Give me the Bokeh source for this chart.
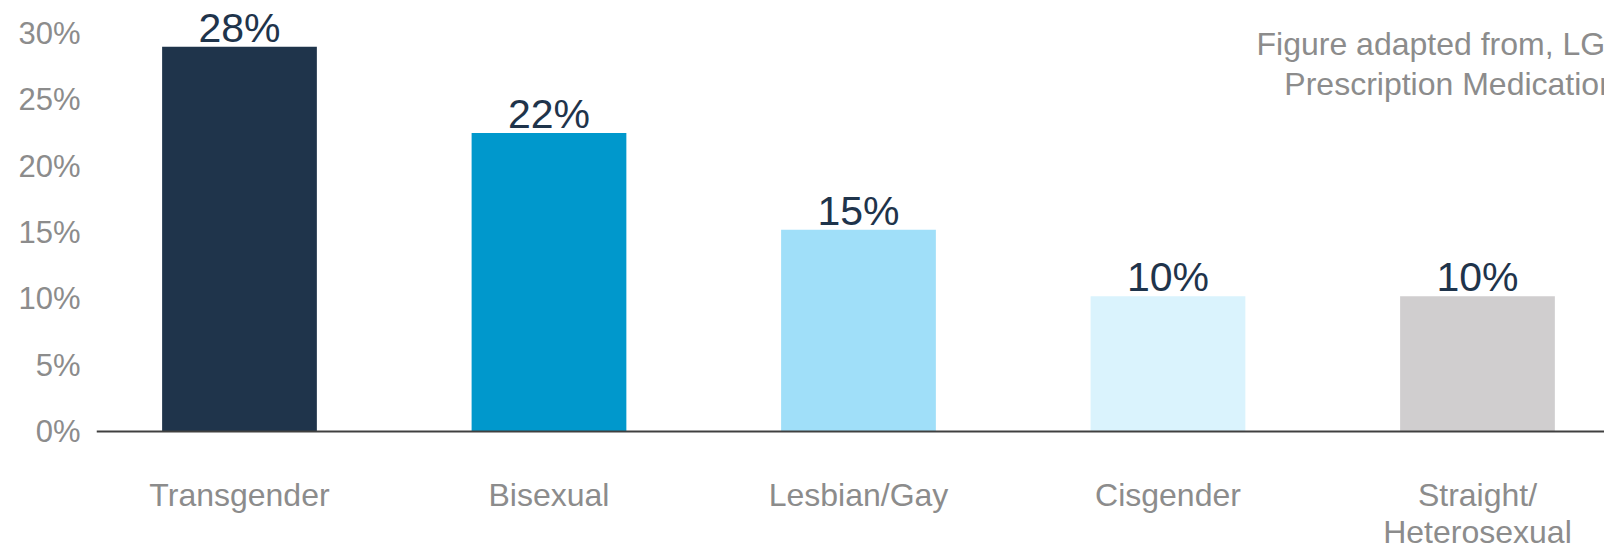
from bokeh.plotting import figure
from bokeh.models import ColumnDataSource, Range1d, Span, FixedTicker
from bokeh.core.properties import value
from bokeh.embed import file_html
from bokeh.resources import INLINE

# ---- data ----
categories = ["Transgender", "Bisexual", "Lesbian/Gay", "Cisgender", "Straight/Heterosexual"]
label_line1 = ["Transgender", "Bisexual", "Lesbian/Gay", "Cisgender", "Straight/"]
label_line2 = ["", "", "", "", "Heterosexual"]
bar_values = [29.0, 22.5, 15.2, 10.2, 10.2]
value_labels = ["28%", "22%", "15%", "10%", "10%"]
y_ticks = [0, 5, 10, 15, 20, 25, 30]
y_tick_labels = ["0%", "5%", "10%", "15%", "20%", "25%", "30%"]
note_lines = ["Figure adapted from, LG", "Prescription Medication"]

# ---- styles ----
bar_colors = ["#1F344B", "#0098CC", "#A0DFF9", "#DAF3FD", "#D0CECF"]
gray = "#8C8C8C"
navy = "#1F344B"
FONT = "Liberation Sans"

xs = list(range(len(categories)))
src = ColumnDataSource(dict(
    x=xs, top=bar_values, color=bar_colors, lab=value_labels,
    laby=[v + 1.45 for v in bar_values],
    l1=label_line1, l2=label_line2,
    l1y=[-4.82] * len(xs), l2y=[-7.6] * len(xs),
))

p = figure(width=1604, height=546, output_backend="svg", toolbar_location=None,
           x_range=Range1d(-0.462, 4.4104), y_range=Range1d(-8.668, 32.487),
           x_axis_location=None, min_border_left=96, min_border_right=0,
           min_border_top=0, min_border_bottom=0)
p.outline_line_color = None
p.xgrid.grid_line_color = None
p.ygrid.grid_line_color = None
p.background_fill_color = "white"
p.border_fill_color = "white"

p.vbar(x="x", top="top", bottom=0, width=0.5, fill_color="color", line_color=None, source=src)

p.add_layout(Span(location=0, dimension="width", line_color="#404040", line_width=2))

p.text(x="x", y="laby", text="lab", source=src, text_align="center", text_baseline="middle",
       text_font=value(FONT), text_font_size="41px", text_color=navy)

p.text(x="x", y="l1y", text="l1", source=src, text_align="center", text_baseline="middle",
       text_font=value(FONT), text_font_size="32px", text_color=gray)
p.text(x="x", y="l2y", text="l2", source=src, text_align="center", text_baseline="middle",
       text_font=value(FONT), text_font_size="32px", text_color=gray)

note_src = ColumnDataSource(dict(x=[3.286, 3.376], y=[29.21, 26.19], t=note_lines))
p.text(x="x", y="y", text="t", source=note_src, text_align="left", text_baseline="middle",
       text_font=value(FONT), text_font_size="32px", text_color=gray)

ax = p.yaxis[0]
ax.ticker = FixedTicker(ticks=y_ticks)
ax.major_label_overrides = {t: l for t, l in zip(y_ticks, y_tick_labels)}
ax.axis_line_color = None
ax.major_tick_line_color = None
ax.minor_tick_line_color = None
ax.major_label_standoff = 10
ax.major_label_text_font = FONT
ax.major_label_text_font_size = "31px"
ax.major_label_text_color = gray

open("out.html", "w").write(file_html(p, INLINE))
